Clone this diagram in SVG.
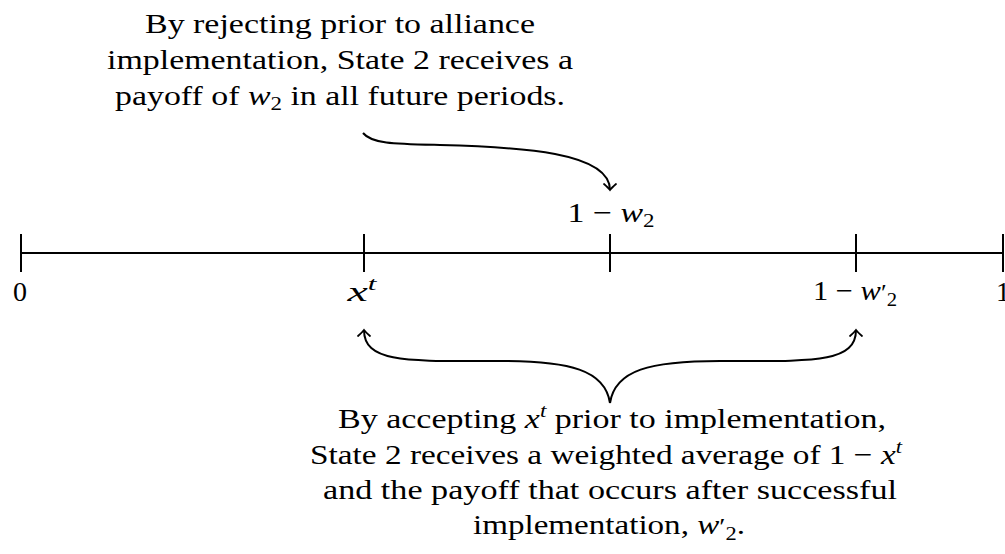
<svg xmlns="http://www.w3.org/2000/svg" width="1005" height="554" viewBox="0 0 1005 554">
<style>
text{font-family:"Liberation Serif","Times New Roman",serif;font-size:28px;fill:#000}
.c{text-anchor:middle}
.m{font-style:italic}
.sub{font-size:19px}
.pr{font-size:24px}
.ln{fill:none;stroke:#000;stroke-width:2}
</style>
<defs>
<marker id="ah" markerUnits="userSpaceOnUse" viewBox="-10 -10 20 20" markerWidth="20" markerHeight="20" refX="0" refY="0" orient="auto">
<path d="M-6,-6 Q-2,-1.5 0,0 Q-2,1.5 -6,6" fill="none" stroke="#000" stroke-width="1.8" stroke-linecap="round"/>
</marker>
</defs>
<rect width="1005" height="554" fill="#fff"/>
<g id="axis">
<line class="ln" x1="21" y1="253" x2="1003" y2="253"/>
<line class="ln" x1="21" y1="234" x2="21" y2="272"/>
<line class="ln" x1="364" y1="234" x2="364" y2="272"/>
<line class="ln" x1="610" y1="234" x2="610" y2="272"/>
<line class="ln" x1="856" y1="234" x2="856" y2="272"/>
<line class="ln" x1="1003" y1="234" x2="1003" y2="272"/>
</g>
<g id="label-0"><text class="c" x="20" y="301">0</text></g>
<g id="label-xt"><text class="c" x="362" y="301" textLength="29" lengthAdjust="spacingAndGlyphs"><tspan class="m">x</tspan><tspan class="m sub" dy="-11">t</tspan></text></g>
<g id="label-1-w2"><text class="c" x="611" y="222" textLength="87" lengthAdjust="spacingAndGlyphs">1 − <tspan class="m">w</tspan><tspan class="sub" dy="5">2</tspan></text></g>
<g id="label-1-w2p"><text class="c" x="855" y="300" textLength="84" lengthAdjust="spacingAndGlyphs">1 − <tspan class="m">w</tspan><tspan class="pr">′</tspan><tspan class="sub" dy="6">2</tspan></text></g>
<g id="label-1"><text class="c" x="1003" y="301">1</text></g>
<g id="note-reject">
<text class="c" x="340" y="33" textLength="390" lengthAdjust="spacingAndGlyphs">By rejecting prior to alliance</text>
<text class="c" x="340" y="69" textLength="466" lengthAdjust="spacingAndGlyphs">implementation, State 2 receives a</text>
<text class="c" x="340" y="105" textLength="450" lengthAdjust="spacingAndGlyphs">payoff of <tspan class="m">w</tspan><tspan class="sub" dy="5">2</tspan><tspan dy="-5"> in all future periods.</tspan></text>
</g>
<g id="note-accept">
<text class="c" x="612" y="428" textLength="548" lengthAdjust="spacingAndGlyphs">By accepting <tspan class="m">x</tspan><tspan class="m sub" dy="-11">t</tspan><tspan dy="11"> prior to implementation,</tspan></text>
<text class="c" x="606" y="464" textLength="592" lengthAdjust="spacingAndGlyphs">State 2 receives a weighted average of 1 − <tspan class="m">x</tspan><tspan class="m sub" dy="-11">t</tspan></text>
<text class="c" x="610" y="499" textLength="574" lengthAdjust="spacingAndGlyphs">and the payoff that occurs after successful</text>
<text class="c" x="609" y="534" textLength="272" lengthAdjust="spacingAndGlyphs">implementation, <tspan class="m">w</tspan><tspan class="pr">′</tspan><tspan class="sub" dy="6">2</tspan><tspan dy="-6">.</tspan></text>
</g>
<g id="connectors">
<path class="ln" d="M363,133 C372,144 395,144 440,145 C520,147 610,152 610,190" marker-end="url(#ah)"/>
<path class="ln" d="M610,403 C605,370 570,361 500,361 C410,361 364,364 364,330" marker-end="url(#ah)"/>
<path class="ln" d="M610,403 C615,370 650,361 720,361 C810,361 856,364 856,330" marker-end="url(#ah)"/>
</g>
</svg>
